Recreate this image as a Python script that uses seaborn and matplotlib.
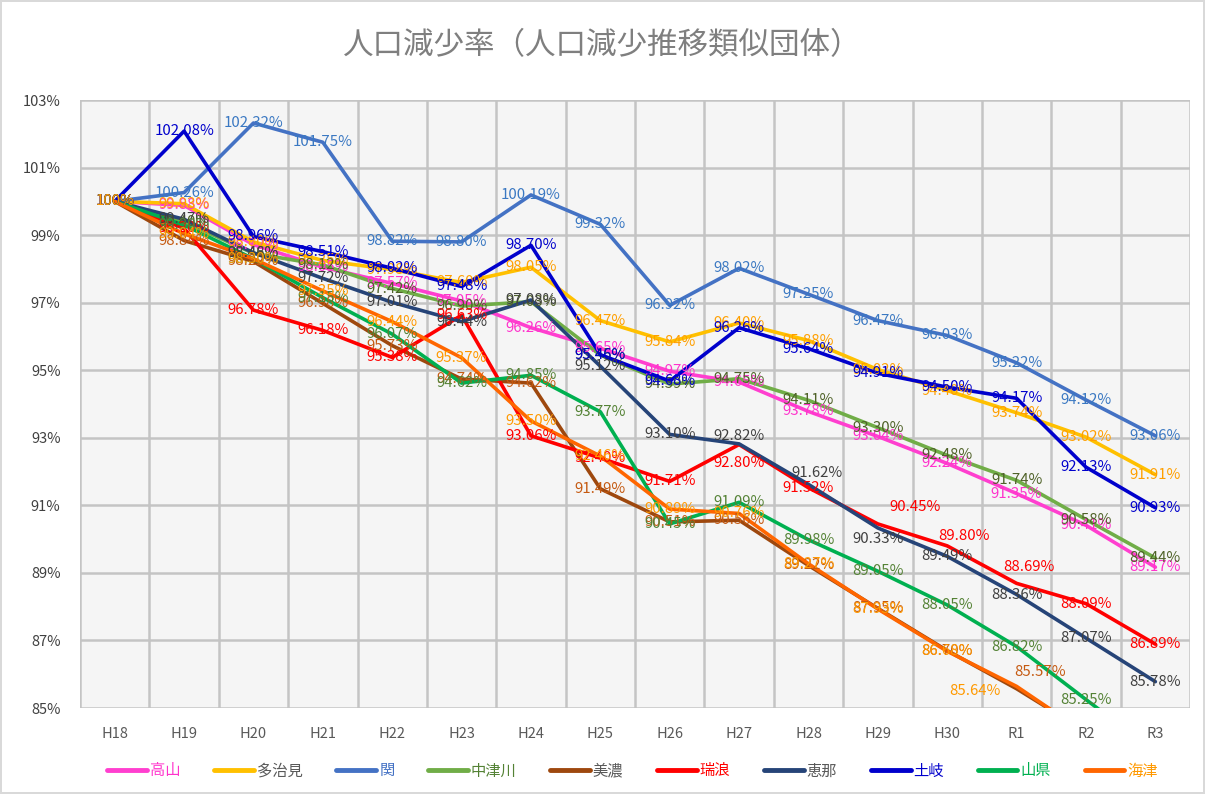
import numpy as np
import pandas as pd
import matplotlib
matplotlib.use("Agg")
import matplotlib.pyplot as plt
import seaborn as sns

# --- data ---
years = ["H18", "H19", "H20", "H21", "H22", "H23", "H24", "H25",
         "H26", "H27", "H28", "H29", "H30", "R1", "R2", "R3"]

cities = ["高山", "多治見", "関", "中津川", "美濃", "瑞浪", "恵那", "土岐", "山県", "海津"]

takayama    = [100, 99.88, 98.72, 98.05, 97.57, 97.05, 96.26, 95.65, 94.97, 94.65, 93.78, 93.04, 92.24, 91.35, 90.41, 89.17]
tajimi      = [100, 99.93, 98.80, 98.25, 97.98, 97.60, 98.05, 96.47, 95.84, 96.40, 95.88, 95.02, 94.40, 93.74, 93.02, 91.91]
seki        = [100, 100.26, 102.32, 101.75, 98.82, 98.80, 100.19, 99.32, 96.92, 98.02, 97.25, 96.47, 96.03, 95.22, 94.12, 93.06]
nakatsugawa = [100, 99.40, 98.46, 98.12, 97.42, 96.90, 97.03, 95.45, 94.59, 94.75, 94.11, 93.30, 92.48, 91.74, 90.58, 89.44]
mino        = [100, 98.84, 98.22, 96.98, 95.73, 94.74, 94.62, 91.49, 90.51, 90.56, 89.22, 87.95, 86.70, 85.57, 84.30, 83.00]
mizunami    = [100, 99.20, 96.78, 96.18, 95.38, 96.63, 93.06, 92.40, 91.71, 92.80, 91.52, 90.45, 89.80, 88.69, 88.09, 86.89]
ena         = [100, 99.47, 98.48, 97.72, 97.01, 96.44, 97.08, 95.12, 93.10, 92.82, 91.62, 90.33, 89.49, 88.36, 87.07, 85.78]
toki        = [100, 102.08, 98.96, 98.51, 98.02, 97.48, 98.70, 95.46, 94.68, 96.26, 95.64, 94.91, 94.50, 94.17, 92.13, 90.93]
yamagata    = [100, 99.30, 98.30, 97.15, 96.07, 94.62, 94.85, 93.77, 90.45, 91.09, 89.98, 89.05, 88.05, 86.82, 85.25, 83.70]
kaizu       = [100, 99.04, 98.30, 97.35, 96.44, 95.37, 93.50, 92.46, 90.89, 90.76, 89.27, 87.93, 86.68, 85.64, 84.25, 82.90]

series = [takayama, tajimi, seki, nakatsugawa, mino, mizunami, ena, toki, yamagata, kaizu]

line_colors  = ["#FF3FCF", "#FFC000", "#4472C4", "#70AD47", "#9E480E",
                "#FF0000", "#264478", "#0000CC", "#00B050", "#FF6600"]
label_colors = ["#FF33CC", "#FF9F00", "#3A78C2", "#4F6228", "#C55A11",
                "#FF0000", "#404040", "#0000CC", "#548235", "#FF9900"]
legend_text_colors = ["#FF33CC", "#595959", "#4472C4", "#548235", "#595959",
                      "#FF0000", "#595959", "#0000CC", "#00B050", "#FF9900"]

# labels that were nudged by hand in the original (points, y up)
label_offsets = {
    ("瑞浪", 9): (0, -13), ("瑞浪", 11): (27, 12), ("瑞浪", 12): (12, 7),
    ("瑞浪", 13): (9, 12), ("恵那", 9): (0, 6), ("恵那", 10): (6, 8),
    ("恵那", 11): (0, -8), ("海津", 13): (-30, -3), ("美濃", 13): (17, 12),
}

rows = []
for city, vals in zip(cities, series):
    for i, v in enumerate(vals):
        rows.append({"city": city, "idx": i, "rate": v})
df = pd.DataFrame(rows)

sns.set_style("white")
plt.rcParams["font.family"] = ["Noto Sans CJK JP", "DejaVu Sans"]

fig = plt.figure(figsize=(12.05, 7.94), dpi=100)
fig.patch.set_facecolor("white")
fig.patch.set_edgecolor("#d9d9d9")
fig.patch.set_linewidth(1.5)
ax = fig.add_axes([0.0664, 0.1083, 0.9212, 0.7657])
ax.set_facecolor("#f5f5f5")

sns.lineplot(data=df, x="idx", y="rate", hue="city", hue_order=cities,
             palette=dict(zip(cities, line_colors)), linewidth=2.6,
             sort=False, ax=ax)

for city, vals, col in zip(cities, series, label_colors):
    for i, v in enumerate(vals):
        txt = "100%" if v == 100 else f"{v:.2f}%"
        off = label_offsets.get((city, i), (0, 0))
        ax.annotate(txt, (i, v), xytext=off, textcoords="offset points",
                    ha="center", va="center", fontsize=10.8, color=col,
                    annotation_clip=True, clip_on=True)

ax.set_xlim(-0.5, 15.5)
ax.set_ylim(85, 103)
ax.set_xticks(range(len(years)))
ax.set_xticklabels(years)
ax.set_xticks(np.arange(-0.5, 15.6, 0.5), minor=True)
ax.set_yticks(np.arange(85, 103.1, 2))
ax.set_yticklabels([f"{int(t)}%" for t in np.arange(85, 103.1, 2)])
ax.grid(which="minor", axis="x", color="#c4c4c4", linewidth=1.8)
ax.grid(which="major", axis="y", color="#c4c4c4", linewidth=1.8)
ax.set_axisbelow(True)
ax.tick_params(axis="both", which="both", length=0)
ax.tick_params(axis="x", pad=14, labelsize=10.5, labelcolor="#595959")
ax.tick_params(axis="y", pad=14, labelsize=10.5, labelcolor="#404040")
for s in ax.spines.values():
    s.set_visible(False)
ax.set_xlabel("")
ax.set_ylabel("")

handles, labels = ax.get_legend_handles_labels()
ax.get_legend().remove()
leg = fig.legend(handles, labels, loc="center", bbox_to_anchor=(0.525, 0.029),
                 ncol=10, frameon=False, fontsize=11, handlelength=2.6,
                 handletextpad=0.2, columnspacing=2.2)
for t, c in zip(leg.get_texts(), legend_text_colors):
    t.set_color(c)
for h in leg.legend_handles:
    h.set_linewidth(3.5)

fig.text(0.5, 0.943, "人口減少率（人口減少推移類似団体）", ha="center", va="center",
         fontsize=22, color="#7f7f7f")

fig.savefig("out.png", dpi=100)
